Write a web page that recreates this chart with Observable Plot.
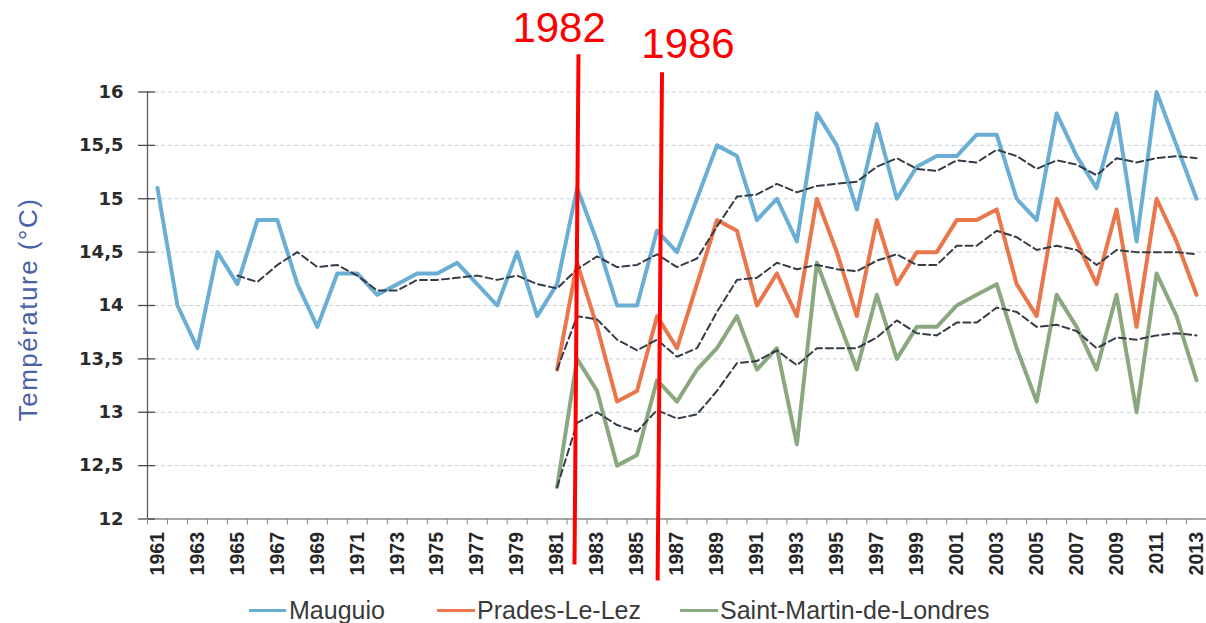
<!DOCTYPE html>
<html>
<head>
<meta charset="utf-8">
<script src="https://cdn.jsdelivr.net/npm/d3@7"></script>
<script src="https://cdn.jsdelivr.net/npm/@observablehq/plot@0.6"></script>
<style>
  body { margin: 0; background: #fff; }
  #chart { position: relative; width: 1206px; height: 623px; overflow: hidden; }
  #legend { position: absolute; left: 0; top: 592px; width: 1206px; height: 31px;
            font-family: "Liberation Sans", Arial, sans-serif; font-size: 25px; color: #3a3a3a; }
  .sw { position: absolute; top: 17px; height: 3px; }
  .lt { position: absolute; top: 0; line-height: 31px; padding-top: 3px; white-space: nowrap; }
</style>
</head>
<body>
<div id="chart"></div>
<script>
// ---- Categories ----
const years = d3.range(1961, 2014);           // 1961 … 2013
const recentYears = d3.range(1981, 2014);     // 1981 … 2013
const mauguioMAYears = d3.range(1965, 2014);  // 1965 … 2013
const oddYearTicks = d3.range(1961, 2014, 2);
const yTicks = [12, 12.5, 13, 13.5, 14, 14.5, 15, 15.5, 16];
const gridTicks = [12.5, 13, 13.5, 14, 14.5, 15, 15.5, 16];

// ---- Series values (°C) ----
const mauguio = [15.1, 14.0, 13.6, 14.5, 14.2, 14.8, 14.8, 14.2, 13.8, 14.3,
                 14.3, 14.1, 14.2, 14.3, 14.3, 14.4, 14.2, 14.0, 14.5, 13.9,
                 14.2, 15.1, 14.6, 14.0, 14.0, 14.7, 14.5, 15.0, 15.5, 15.4,
                 14.8, 15.0, 14.6, 15.8, 15.5, 14.9, 15.7, 15.0, 15.3, 15.4,
                 15.4, 15.6, 15.6, 15.0, 14.8, 15.8, 15.4, 15.1, 15.8, 14.6,
                 16.0, 15.5, 15.0];
const prades = [13.4, 14.4, 13.8, 13.1, 13.2, 13.9, 13.6, 14.2, 14.8, 14.7,
                14.0, 14.3, 13.9, 15.0, 14.5, 13.9, 14.8, 14.2, 14.5, 14.5,
                14.8, 14.8, 14.9, 14.2, 13.9, 15.0, 14.6, 14.2, 14.9, 13.8,
                15.0, 14.6, 14.1];
const stMartin = [12.3, 13.5, 13.2, 12.5, 12.6, 13.3, 13.1, 13.4, 13.6, 13.9,
                  13.4, 13.6, 12.7, 14.4, 13.9, 13.4, 14.1, 13.5, 13.8, 13.8,
                  14.0, 14.1, 14.2, 13.6, 13.1, 14.1, 13.8, 13.4, 14.1, 13.0,
                  14.3, 13.9, 13.3];

// ---- Dashed trend (moving average) values ----
const mauguioMA = [14.28, 14.22, 14.38, 14.5, 14.36, 14.38, 14.28, 14.14, 14.14, 14.24,
                   14.24, 14.26, 14.28, 14.24, 14.28, 14.2, 14.16, 14.34, 14.46, 14.36,
                   14.38, 14.48, 14.36, 14.44, 14.74, 15.02, 15.04, 15.14, 15.06, 15.12,
                   15.14, 15.16, 15.3, 15.38, 15.28, 15.26, 15.36, 15.34, 15.46, 15.4,
                   15.28, 15.36, 15.32, 15.22, 15.38, 15.34, 15.38, 15.4, 15.38];
const pradesMA = [13.4, 13.9, 13.87, 13.68, 13.58, 13.68, 13.52, 13.6, 13.94, 14.24,
                  14.26, 14.4, 14.34, 14.38, 14.34, 14.32, 14.42, 14.48, 14.38, 14.38,
                  14.56, 14.56, 14.7, 14.64, 14.52, 14.56, 14.52, 14.38, 14.52, 14.5,
                  14.5, 14.5, 14.48];
const stMartinMA = [12.3, 12.9, 13.0, 12.88, 12.82, 13.02, 12.94, 12.98, 13.2, 13.46,
                    13.48, 13.58, 13.44, 13.6, 13.6, 13.6, 13.7, 13.86, 13.74, 13.72,
                    13.84, 13.84, 13.98, 13.94, 13.8, 13.82, 13.76, 13.6, 13.7, 13.68,
                    13.72, 13.74, 13.72];

// ---- Series names / colours ----
const seriesNames = ["Mauguio", "Prades-Le-Lez", "Saint-Martin-de-Londres"];
const seriesColors = ["#6aaed4", "#ea774b", "#8aa87f"];
const trendColor = "#353c46";

// ---- Red annotations ----
const annoLabels = ["1982", "1986"];
const annoLabelX = [1981.1, 1987.55];
const annoLabelY = [16.597, 16.447];
const annoXTop = [1982.07, 1986.25];
const annoYTop = [16.353, 16.185];
const annoXBottom = [1981.87, 1986.03];
const annoYBottom = [11.574, 11.424];

const yTitle = "Température (°C)";

// ---- Build tables ----
const toRows = (xs, vs) => xs.map((year, i) => ({year, value: vs[i]}));
const mauguioRows = toRows(years, mauguio);
const pradesRows = toRows(recentYears, prades);
const stMartinRows = toRows(recentYears, stMartin);
const mauguioMARows = toRows(mauguioMAYears, mauguioMA);
const pradesMARows = toRows(recentYears, pradesMA);
const stMartinMARows = toRows(recentYears, stMartinMA);
const annoRows = annoLabels.map((label, i) => ({
  label, lx: annoLabelX[i], ly: annoLabelY[i],
  x1: annoXTop[i], y1: annoYTop[i], x2: annoXBottom[i], y2: annoYBottom[i]
}));

const xDomain = [years[0] - 0.5, years[years.length - 1] + 0.5];
const categoryEdges = d3.range(xDomain[0], xDomain[1] + 0.01, 1);

const fmtComma = d => String(d).replace(".", ",");

const svg = Plot.plot({
  width: 1206,
  height: 592,
  marginLeft: 147,
  marginRight: 0,
  marginTop: 91.5,
  marginBottom: 73.5,
  x: {domain: xDomain},
  y: {domain: [12, 16]},
  style: {background: "transparent", fontFamily: "Liberation Sans, Arial, sans-serif", overflow: "visible"},
  marks: [
    // gridlines
    Plot.ruleY(gridTicks, {stroke: "#c6d1de", strokeDasharray: "4,3", strokeWidth: 1}),
    // axes lines
    Plot.ruleY([12], {stroke: "#8a8a8a", strokeWidth: 1.3}),
    Plot.ruleX([xDomain[0]], {stroke: "#5e5e5e", strokeWidth: 1.3}),
    // inner part of y ticks
    Plot.ruleY(yTicks, {x1: xDomain[0], x2: xDomain[0] + 0.4, stroke: "#4a4a4a", strokeWidth: 1.3}),
    Plot.axisY({
      ticks: yTicks, tickSize: 9, tickPadding: 15, tickFormat: fmtComma,
      stroke: "#4a4a4a", strokeWidth: 1.3,
      fontSize: 18, fontWeight: "bold", fontFamily: "DejaVu Sans", fill: "#2a2a2a", label: null
    }),
    // x minor ticks on category edges
    Plot.axisX(categoryEdges, {tickSize: 6, tickFormat: () => "", stroke: "#8a8a8a", label: null}),
    // x labels (odd years)
    Plot.axisX(oddYearTicks, {
      tickSize: 0, tickPadding: 13, tickRotate: -90, tickFormat: d => String(d),
      fontSize: 19.5, fontWeight: "bold", fontFamily: "Liberation Sans", fill: "#262626", label: null
    }),
    // y title
    Plot.text([yTitle], {
      frameAnchor: "left", textAnchor: "middle", rotate: -90, dx: -119, dy: 4, text: d => d,
      fontSize: 26, fill: "#4a62a6", fontFamily: "Liberation Sans"
    }),
    // series
    Plot.line(mauguioRows, {x: "year", y: "value", stroke: seriesColors[0], strokeWidth: 4}),
    Plot.line(pradesRows, {x: "year", y: "value", stroke: seriesColors[1], strokeWidth: 4}),
    Plot.line(stMartinRows, {x: "year", y: "value", stroke: seriesColors[2], strokeWidth: 4}),
    // trends
    Plot.line(mauguioMARows, {x: "year", y: "value", stroke: trendColor, strokeWidth: 2, strokeDasharray: "7,4"}),
    Plot.line(pradesMARows, {x: "year", y: "value", stroke: trendColor, strokeWidth: 2, strokeDasharray: "7,4"}),
    Plot.line(stMartinMARows, {x: "year", y: "value", stroke: trendColor, strokeWidth: 2, strokeDasharray: "7,4"}),
    // red annotations
    Plot.link(annoRows, {x1: "x1", y1: "y1", x2: "x2", y2: "y2", stroke: "#ff0000", strokeWidth: 4}),
    Plot.text(annoRows, {x: "lx", y: "ly", text: "label", fill: "#ff0000", fontSize: 42,
                          fontFamily: "Liberation Sans", lineAnchor: "middle"})
  ]
});

// letter-spacing for the y title
d3.select(svg).selectAll("text").filter(function() { return this.textContent === yTitle; })
  .style("letter-spacing", "1.5px");

const chart = document.getElementById("chart");
chart.appendChild(svg);

// ---- Legend (HTML, below the SVG) ----
const legend = document.createElement("div");
legend.id = "legend";
const swatchX = [249, 437, 680];
const swatchW = [37, 38, 38];
const labelX = [289, 477, 720];
seriesNames.forEach((name, i) => {
  const sw = document.createElement("div");
  sw.className = "sw";
  sw.style.left = swatchX[i] + "px";
  sw.style.width = swatchW[i] + "px";
  sw.style.background = seriesColors[i];
  legend.appendChild(sw);
  const lt = document.createElement("div");
  lt.className = "lt";
  lt.style.left = labelX[i] + "px";
  lt.textContent = name;
  legend.appendChild(lt);
});
chart.appendChild(legend);
</script>
</body>
</html>
